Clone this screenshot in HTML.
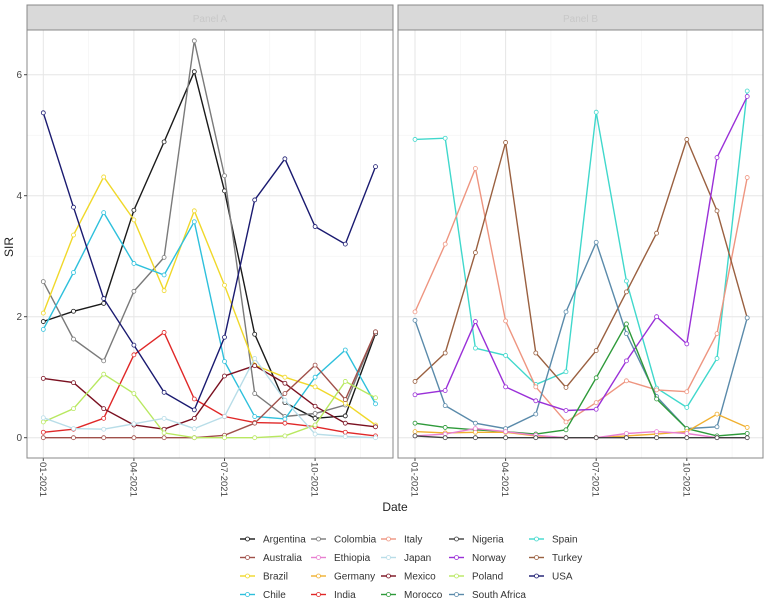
<!DOCTYPE html>
<html><head><meta charset="utf-8"><style>
body{margin:0;background:#fff;}
svg{display:block;font-family:"Liberation Sans",sans-serif;}
</style></head><body>
<svg id="chart" width="767" height="607" viewBox="0 0 767 607"></svg>
<script>
const months = ["01-2021","02-2021","03-2021","04-2021","05-2021","06-2021","07-2021","08-2021","09-2021","10-2021","11-2021","12-2021"];
const xTickLabels = ["01-2021","04-2021","07-2021","10-2021"];
const yTicks = [0,2,4,6];
const panel1Countries = ["Argentina","Colombia","Brazil","Chile","India","Mexico","Australia","Poland","Japan","USA"];
const panel2Countries = ["Spain","Italy","Turkey","South Africa","Norway","Morocco","Germany","Ethiopia","Nigeria"];
const colors = {Argentina:"#1a1a1a",Australia:"#a0504a",Brazil:"#f0d82a",Chile:"#2ec0dc",Colombia:"#7a7a7a",Ethiopia:"#e87fd0",Germany:"#f0b030",India:"#e02828",Italy:"#ee9580",Japan:"#b8dde8",Mexico:"#7a1020",Morocco:"#2e9a3a",Nigeria:"#404040",Norway:"#9a30d8",Poland:"#b8e860",SouthAfrica:"#5a8aaa",Spain:"#40d8cc",Turkey:"#9a6040",USA:"#1a1a70"};
const vArgentina = [1.92,2.09,2.22,3.76,4.89,6.05,4.08,1.71,0.58,0.32,0.36,1.72];
const vColombia = [2.58,1.63,1.27,2.42,2.98,6.56,4.33,0.73,0.35,0.40,0.54,1.75];
const vBrazil = [2.06,3.35,4.31,3.6,2.43,3.75,2.52,1.2,1.0,0.84,0.57,0.21];
const vChile = [1.79,2.73,3.72,2.88,2.69,3.57,1.26,0.35,0.31,1.0,1.45,0.56];
const vIndia = [0.09,0.14,0.32,1.37,1.74,0.64,0.35,0.25,0.24,0.18,0.09,0.03];
const vMexico = [0.98,0.91,0.48,0.21,0.14,0.32,1.02,1.19,0.9,0.52,0.24,0.18];
const vAustralia = [0,0,0,0,0,0,0.04,0.24,0.73,1.2,0.63,1.75];
const vPoland = [0.26,0.48,1.05,0.73,0.08,0,0,0,0.03,0.21,0.93,0.66];
const vJapan = [0.33,0.15,0.14,0.23,0.32,0.15,0.35,1.31,0.62,0.06,0.02,0];
const vUSA = [5.37,3.81,2.3,1.53,0.75,0.46,1.66,3.93,4.61,3.49,3.2,4.48];
const vSpain = [4.93,4.95,1.48,1.36,0.88,1.09,5.38,2.59,0.82,0.5,1.31,5.73];
const vItaly = [2.08,3.2,4.45,1.93,0.84,0.26,0.58,0.94,0.79,0.76,1.72,4.3];
const vTurkey = [0.93,1.4,3.06,4.88,1.4,0.83,1.44,2.41,3.38,4.93,3.75,1.98];
const vSouthAfrica = [1.94,0.53,0.24,0.15,0.39,2.08,3.23,1.72,0.68,0.15,0.18,1.98];
const vNorway = [0.71,0.78,1.92,0.84,0.61,0.45,0.47,1.27,2.0,1.55,4.63,5.64];
const vMorocco = [0.24,0.17,0.13,0.1,0.06,0.13,0.99,1.88,0.64,0.15,0.03,0.07];
const vGermany = [0.1,0.08,0.09,0.09,0.03,0,0,0.03,0.06,0.1,0.39,0.17];
const vEthiopia = [0.03,0.06,0.15,0.1,0.04,0,0,0.07,0.1,0.07,0,0];
const vNigeria = [0.03,0,0,0,0,0,0,0,0,0,0,0];
const series = {Argentina:vArgentina,Colombia:vColombia,Brazil:vBrazil,Chile:vChile,India:vIndia,Mexico:vMexico,Australia:vAustralia,Poland:vPoland,Japan:vJapan,USA:vUSA,Spain:vSpain,Italy:vItaly,Turkey:vTurkey,"South Africa":vSouthAfrica,Norway:vNorway,Morocco:vMorocco,Germany:vGermany,Ethiopia:vEthiopia,Nigeria:vNigeria};
const legendOrder = ["Argentina","Australia","Brazil","Chile","Colombia","Ethiopia","Germany","India","Italy","Japan","Mexico","Morocco","Nigeria","Norway","Poland","South Africa","Spain","Turkey","USA"];

const NS="http://www.w3.org/2000/svg";
const svg=document.getElementById('chart');
function mk(tag,attrs,parent){const e=document.createElementNS(NS,tag);for(const k in attrs)e.setAttribute(k,attrs[k]);(parent||svg).appendChild(e);return e;}
function col(c){return colors[c.replace(' ','')];}
const Y0=437.7, YS=60.5;
function yS(v){return Y0-v*YS;}
const panels=[{x0:27,x1:393,first:43.3,list:panel1Countries,name:"panel-left",title:"Panel A"},{x0:398,x1:763,first:415,list:panel2Countries,name:"panel-right",title:"Panel B"}];
panels.forEach(p=>{
  const g=mk('g',{});
  
  
  const xS=i=>p.first+i*30.2;
  const strip=mk('rect',{x:p.x0,y:5,width:p.x1-p.x0,height:25,fill:'#d9d9d9',stroke:'#888','stroke-width':1},g);
  
  
  const st=mk('text',{x:(p.x0+p.x1)/2,y:22,'text-anchor':'middle','font-size':10,fill:'#c8c8c8'},g);st.textContent=p.title;
  // grid
  for(let v=1;v<=5;v+=2) mk('line',{x1:p.x0,x2:p.x1,y1:yS(v),y2:yS(v),stroke:'#f2f2f2','stroke-width':0.6},g);
  for(let i=1;i<=10;i+=3) mk('line',{x1:xS(i+0.5),x2:xS(i+0.5),y1:30,y2:458,stroke:'#f2f2f2','stroke-width':0.6},g);
  yTicks.forEach(v=>mk('line',{x1:p.x0,x2:p.x1,y1:yS(v),y2:yS(v),stroke:'#e6e6e6','stroke-width':1},g));
  xTickLabels.forEach(l=>{const i=months.indexOf(l);mk('line',{x1:xS(i),x2:xS(i),y1:30,y2:458,stroke:'#e6e6e6','stroke-width':1},g);
    mk('line',{x1:xS(i),x2:xS(i),y1:458,y2:461,stroke:'#444'},g);
    const t=mk('text',{x:0,y:0,transform:`translate(${xS(i)-3.5},462) rotate(90)`,'font-size':9.5,fill:'#444'},g);t.textContent=l;
    });
  mk('rect',{x:p.x0,y:30,width:p.x1-p.x0,height:428,fill:'none',stroke:'#888','stroke-width':1},g);
  p.list.forEach(c=>{
    const vals=series[c];
    const pts=vals.map((v,i)=>xS(i).toFixed(1)+','+yS(v).toFixed(1)).join(' ');
    const pl=mk('polyline',{points:pts,fill:'none',stroke:col(c),'stroke-width':1.4},g);
    
    
    vals.forEach((v,i)=>mk('circle',{cx:xS(i),cy:yS(v),r:2,fill:'#fff',stroke:col(c),'stroke-width':0.8},g));
  });
});
yTicks.forEach(v=>{mk('line',{x1:24,x2:27,y1:yS(v),y2:yS(v),stroke:'#444'});
  const t=mk('text',{x:22,y:yS(v)+3.5,'text-anchor':'end','font-size':10,fill:'#444'});t.textContent=v;
  });
const yt=mk('text',{x:0,y:0,transform:'translate(13,247) rotate(-90)','text-anchor':'middle','font-size':12,fill:'#222'});yt.textContent='SIR';

const xt=mk('text',{x:395,y:511,'text-anchor':'middle','font-size':12,fill:'#222'});xt.textContent='Date';

const colX=[240,311,381,449,529];
legendOrder.forEach((c,k)=>{
  const ci=Math.floor(k/4), ri=k%4;
  const x=colX[ci], y=539+ri*18.5;
  const g=mk('g',{});
  
  
  mk('line',{x1:x,x2:x+15,y1:y,y2:y,stroke:col(c),'stroke-width':1.4},g);
  mk('circle',{cx:x+7.5,cy:y,r:2,fill:'#fff',stroke:col(c),'stroke-width':0.8},g);
  const t=mk('text',{x:x+23,y:y+3.5,'font-size':10,fill:'#333'},g);t.textContent=c;
});
</script>
</body></html>
